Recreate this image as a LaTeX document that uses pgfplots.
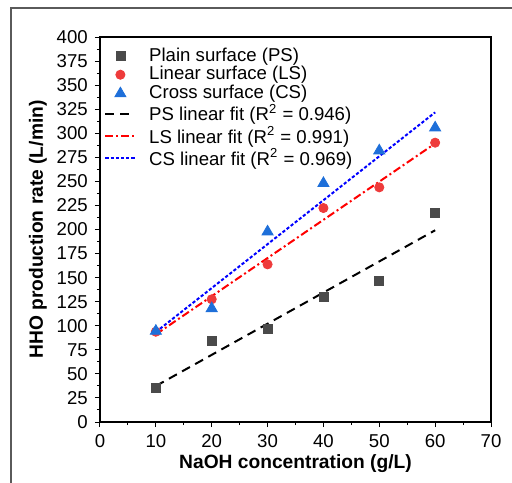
\documentclass[border=0pt]{standalone}
\usepackage{fontspec}
\setmainfont{Liberation Sans}
\usepackage{pgfplots}
\pgfplotsset{compat=1.18}
\usetikzlibrary{calc}
\definecolor{cPS}{HTML}{4A4A4A}
\definecolor{cLS}{HTML}{EE3B3B}
\definecolor{cCS}{HTML}{1E6FD9}
\definecolor{cFrame}{HTML}{5A5A5A}

\begin{document}
\begin{tikzpicture}
\begin{axis}[
  name=ax, scale only axis, width=195.5pt, height=192.5pt,
  xmin=0, xmax=70, ymin=0, ymax=400,
  xtick distance=10, ytick distance=25, minor tick num=1,
  tick align=outside, xtick pos=bottom, ytick pos=left,
  major tick length=2.6pt, minor tick length=1.6pt,
  axis line style={line width=0.6pt}, tick style={line width=0.5pt, black},
  /pgf/number format/assume math mode=true,
  tick label style={font=\fontsize{9.3}{11}\selectfont},
  xlabel={NaOH concentration (g/L)},
  ylabel={HHO production rate (L/min)},
  label style={font=\bfseries\fontsize{9.6}{11}\selectfont},
  xlabel style={at={(axis description cs:0.5,-0.107)}, anchor=center},
  ylabel style={at={(axis description cs:-0.159,0.5)}, anchor=center},
  legend cell align=left,
  legend style={at={(0,1)}, anchor=north west, xshift=-1pt, yshift=-2.5pt,
    draw=none, fill=none, column sep=5.8pt,
    nodes={inner sep=0.6pt}, font=\fontsize{9.3}{11}\selectfont},
  legend image code/.code={\draw[mark repeat=2,mark phase=2,#1]
    plot coordinates {(0pt,0pt)(7.5pt,0pt)(15pt,0pt)};},
]
\addplot[only marks, mark=square*, mark size=2.25pt, color=cPS]
  coordinates {(10,35)(20,84.5)(30,96.3)(40,130)(50,146.5)(60,217.5)};
\addlegendentry{Plain surface (PS)}
\addplot[only marks, mark=*, mark size=2.3pt, color=cLS]
  coordinates {(10,93.8)(20,127.5)(30,163.8)(40,222.3)(50,243.8)(60,290.2)};
\addlegendentry{Linear surface (LS)}
\addplot[only marks, mark=triangle*, mark size=3.2pt, color=cCS]
  coordinates {(10,94.5)(20,118)(30,197.7)(40,248)(50,281.9)(60,305.7)};
\addlegendentry{Cross surface (CS)}
\addplot[black, line width=1pt, dash pattern=on 4.5pt off 3pt]
  coordinates {(10,37.4)(60,199.2)};
\addlegendentry{PS linear fit (R\textsuperscript{2} = 0.946)}
\addplot[red, line width=1pt, dash pattern=on 4pt off 1.5pt on 1pt off 1.5pt]
  coordinates {(10,91)(60,289.4)};
\addlegendentry{LS linear fit (R\textsuperscript{2} = 0.991)}
\addplot[blue, line width=1pt, dash pattern=on 1.6pt off 1pt]
  coordinates {(10,93.5)(60,321.7)};
\addlegendentry{CS linear fit (R\textsuperscript{2} = 0.969)}
\end{axis}
\path[use as bounding box] ($(ax.south west)+(-50pt,-30pt)$) rectangle ($(ax.north east)+(10.5pt,18.5pt)$);
\draw[cFrame, line width=0.8pt] ($(ax.south west)+(-44.5pt,-31pt)$) -- ($(ax.north west)+(-44.5pt,14.5pt)$) -- ($(ax.north east)+(11pt,14.5pt)$);
\end{tikzpicture}
\end{document}
